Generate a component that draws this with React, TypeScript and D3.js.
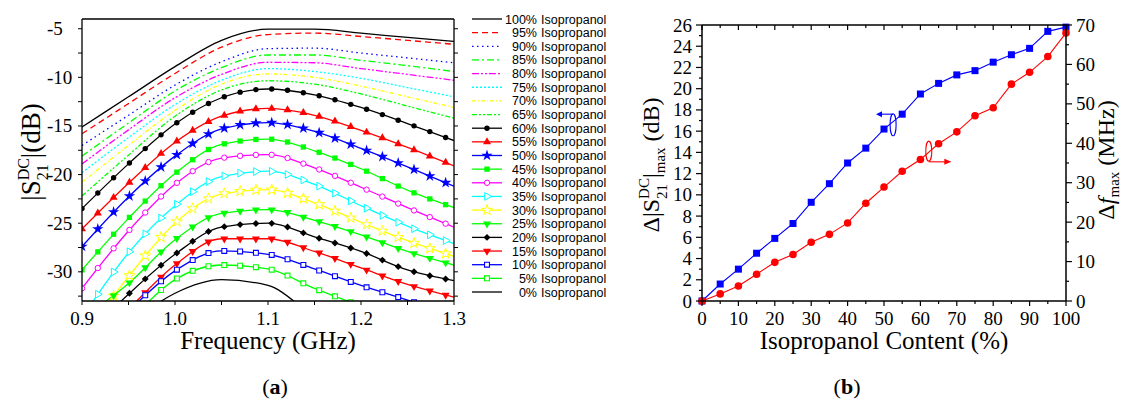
import React from "react";
import * as d3 from "d3";

// ---------- Panel (a) data ----------
const freqs = [0.9, 0.95, 1.0, 1.05, 1.1, 1.15, 1.2, 1.25, 1.3];
const s100 = [-15.1, -12.0, -8.9, -6.2, -5.05, -5.05, -5.45, -5.9, -6.3];
const s95 = [-15.8, -12.7, -9.6, -6.9, -5.6, -5.45, -5.8, -6.2, -6.6];
const s90 = [-17.0, -13.9, -10.8, -8.4, -7.05, -7.0, -7.5, -8.0, -8.5];
const s85 = [-18.1, -14.7, -11.4, -9.0, -7.7, -7.7, -8.25, -8.8, -9.4];
const s80 = [-18.9, -15.4, -12.1, -9.7, -8.45, -8.5, -9.1, -9.7, -10.3];
const s75 = [-19.8, -16.2, -12.8, -10.3, -9.1, -9.4, -10.1, -11.05, -12.0];
const s70 = [-20.8, -17.0, -13.4, -10.7, -9.65, -10.0, -10.9, -12.0, -13.1];
const s65 = [-22.2, -18.0, -14.0, -11.3, -10.35, -10.7, -11.7, -12.95, -14.2];
const s60 = [-23.5, -18.9, -14.8, -12.1, -11.2, -11.8, -13.1, -14.75, -16.5];
const s55 = [-25.6, -20.9, -16.7, -14.0, -13.2, -13.9, -15.45, -17.2, -19.1];
const s50 = [-27.4, -22.3, -18.1, -15.3, -14.65, -15.55, -17.3, -19.2, -21.2];
const s45 = [-29.8, -24.5, -19.9, -16.9, -16.35, -17.55, -19.4, -21.6, -23.4];
const s40 = [-31.7, -25.8, -21.0, -18.3, -17.95, -19.3, -21.3, -23.4, -25.4];
const s35 = [-34.7, -28.05, -23.2, -20.2, -19.65, -21.0, -23.2, -25.3, -27.1];
const s30 = [-37.0, -30.5, -25.0, -22.0, -21.55, -22.9, -24.9, -26.8, -28.4];
const s25 = [-34.8, -31.2, -26.7, -24.0, -23.6, -24.7, -26.2, -27.9, -29.3];
const s20 = [-37.0, -32.3, -28.2, -25.4, -25.0, -26.4, -27.9, -29.8, -30.9];
const s15 = [-38.0, -33.8, -29.3, -26.6, -26.6, -27.9, -29.6, -31.3, -32.6];
const s10 = [-38.5, -34.0, -29.9, -27.85, -28.2, -29.7, -31.4, -32.9, -34.5];
const s5 = [-39.0, -35.0, -30.8, -29.3, -29.7, -31.7, -33.5, -35.0, -36.5];
const s0 = [-40.0, -35.5, -32.2, -30.8, -31.4, -34.6, -37.0, -39.5, -42.0];

const xTicksA = [0.9, 1.0, 1.1, 1.2, 1.3];
const yTicksA = [-5, -10, -15, -20, -25, -30];

// ---------- Panel (b) data ----------
const content = [0, 5, 10, 15, 20, 25, 30, 35, 40, 45, 50, 55, 60, 65, 70, 75, 80, 85, 90, 95, 100];
const deltaS = [0, 1.6, 3.0, 4.5, 5.9, 7.3, 9.3, 11.05, 13.0, 14.4, 16.2, 17.6, 19.5, 20.5, 21.3, 21.7, 22.5, 23.2, 23.8, 25.4, 25.8];
const deltaF = [0, 1.8, 3.8, 6.8, 9.8, 11.8, 14.9, 16.9, 19.8, 24.8, 28.9, 32.9, 35.9, 39.9, 42.9, 47.0, 49.0, 55.0, 58.0, 62.0, 68.0];
const xTicksB = [0, 10, 20, 30, 40, 50, 60, 70, 80, 90, 100];
const yTicksBL = [0, 2, 4, 6, 8, 10, 12, 14, 16, 18, 20, 22, 24, 26];
const yTicksBR = [0, 10, 20, 30, 40, 50, 60, 70];

type Marker =
  | "circle" | "triUp" | "star" | "square" | "circleOpen" | "triRightOpen"
  | "starOpen" | "triDown" | "diamond" | "squareOpen";

interface SeriesDef {
  label: string;
  values: number[];
  color: string;
  dash?: string;
  marker?: Marker;
}

const GREEN = "#00ff00";
const SERIES: SeriesDef[] = [
  { label: "100%", values: s100, color: "#000000" },
  { label: "95%", values: s95, color: "#ff0000", dash: "6,4" },
  { label: "90%", values: s90, color: "#0000ff", dash: "1.5,3.5" },
  { label: "85%", values: s85, color: GREEN, dash: "7,3,2,3" },
  { label: "80%", values: s80, color: "#ff00ff", dash: "7,2,2,2,2,2" },
  { label: "75%", values: s75, color: "#00ffff", dash: "2,2" },
  { label: "70%", values: s70, color: "#ffff00", dash: "4,2,1,2" },
  { label: "65%", values: s65, color: GREEN, dash: "5,2,2,2,2,2" },
  { label: "60%", values: s60, color: "#000000", marker: "circle" },
  { label: "55%", values: s55, color: "#ff0000", marker: "triUp" },
  { label: "50%", values: s50, color: "#0000ff", marker: "star" },
  { label: "45%", values: s45, color: GREEN, marker: "square" },
  { label: "40%", values: s40, color: "#ff00ff", marker: "circleOpen" },
  { label: "35%", values: s35, color: "#00ffff", marker: "triRightOpen" },
  { label: "30%", values: s30, color: "#ffff00", marker: "starOpen" },
  { label: "25%", values: s25, color: GREEN, marker: "triDown" },
  { label: "20%", values: s20, color: "#000000", marker: "diamond" },
  { label: "15%", values: s15, color: "#ff0000", marker: "triDown" },
  { label: "10%", values: s10, color: "#0000ff", marker: "squareOpen" },
  { label: "5%", values: s5, color: GREEN, marker: "squareOpen" },
  { label: "0%", values: s0, color: "#000000" },
];

// Same monotone (Steffen) interpolation as d3.curveMonotoneX, used to place markers on the curve
function monotoneAt(xs: number[], ys: number[], x: number): number {
  const n = xs.length;
  const h: number[] = [];
  const s: number[] = [];
  for (let i = 0; i < n - 1; i++) {
    h[i] = xs[i + 1] - xs[i];
    s[i] = (ys[i + 1] - ys[i]) / h[i];
  }
  const t: number[] = new Array(n).fill(0);
  for (let i = 1; i < n - 1; i++) {
    const p = (s[i - 1] * h[i] + s[i] * h[i - 1]) / (h[i - 1] + h[i]);
    t[i] =
      (Math.sign(s[i - 1]) + Math.sign(s[i])) *
        Math.min(Math.abs(s[i - 1]), Math.abs(s[i]), 0.5 * Math.abs(p)) || 0;
  }
  t[0] = (3 * s[0] - t[1]) / 2;
  t[n - 1] = (3 * s[n - 2] - t[n - 2]) / 2;
  let i = 0;
  while (i < n - 2 && x > xs[i + 1]) i++;
  const u = (x - xs[i]) / h[i];
  const dx = h[i] / 3;
  const p0 = ys[i];
  const p1 = ys[i] + dx * t[i];
  const p2 = ys[i + 1] - dx * t[i + 1];
  const p3 = ys[i + 1];
  const v = 1 - u;
  return v * v * v * p0 + 3 * v * v * u * p1 + 3 * v * u * u * p2 + u * u * u * p3;
}

function MarkerShape({ type, x, y, color }: { type: Marker; x: number; y: number; color: string }) {
  const tr = (rot = 0) => `translate(${x},${y}) rotate(${rot})`;
  switch (type) {
    case "circle":
      return <circle cx={x} cy={y} r={2.7} fill={color} />;
    case "circleOpen":
      return <circle cx={x} cy={y} r={2.7} fill="#fff" stroke={color} strokeWidth={1} />;
    case "triUp":
      return <path d={d3.symbol().type(d3.symbolTriangle).size(28)()!} transform={tr()} fill={color} />;
    case "triDown":
      return <path d={d3.symbol().type(d3.symbolTriangle).size(28)()!} transform={tr(180)} fill={color} />;
    case "triRightOpen":
      return (
        <path d={d3.symbol().type(d3.symbolTriangle).size(26)()!} transform={tr(90)} fill="#fff" stroke={color} strokeWidth={1} />
      );
    case "star":
      return <path d={d3.symbol().type(d3.symbolStar).size(40)()!} transform={tr()} fill={color} />;
    case "starOpen":
      return <path d={d3.symbol().type(d3.symbolStar).size(36)()!} transform={tr()} fill="#fff" stroke={color} strokeWidth={1} />;
    case "square":
      return <path d={d3.symbol().type(d3.symbolSquare).size(28)()!} transform={tr()} fill={color} />;
    case "squareOpen":
      return <path d={d3.symbol().type(d3.symbolSquare).size(24)()!} transform={tr()} fill="#fff" stroke={color} strokeWidth={1.1} />;
    case "diamond":
      return <path d={d3.symbol().type(d3.symbolSquare).size(24)()!} transform={tr(45)} fill={color} />;
  }
  return null;
}

const SERIF = "'Times New Roman', 'Liberation Serif', Tinos, serif";
const SANS = "Arial, 'Liberation Sans', sans-serif";

export default function App() {
  // Panel (a)
  const xA = d3.scaleLinear().domain([0.9, 1.3]).range([82, 454]);
  const yA = d3.scaleLinear().domain([-33, -4]).range([301, 19]);
  const lineA = d3
    .line<number>()
    .x((_, i) => xA(freqs[i]))
    .y((d) => yA(d))
    .curve(d3.curveMonotoneX);
  const markerFreqs = d3.range(24).map((k) => 0.9 + 0.017 * k);
  const minorA = d3.range(-32.5, -4, 2.5);
  const minorXA = d3.range(0.9, 1.3001, 0.05);

  // Panel (b)
  const xB = d3.scaleLinear().domain([0, 100]).range([702, 1066]);
  const yBL = d3.scaleLinear().domain([0, 26]).range([301, 25]);
  const yBR = d3.scaleLinear().domain([0, 70]).range([301, 25]);
  const lineBL = d3
    .line<number>()
    .x((_, i) => xB(content[i]))
    .y((d) => yBL(d));
  const lineBR = d3
    .line<number>()
    .x((_, i) => xB(content[i]))
    .y((d) => yBR(d));

  const tickFont = 19;
  const legendX0 = 472;
  const legendX1 = 502;
  const legendY = (i: number) => 19 + i * 13.65;

  return (
    <svg
      width={1123}
      height={405}
      style={{ position: "absolute", left: 0, top: 0, display: "block", background: "#fff" }}
    >
      <rect x={0} y={0} width={1123} height={405} fill="#fff" />
      <defs>
        <clipPath id="clipA">
          <rect x={82} y={19} width={372} height={282} />
        </clipPath>
      </defs>

      {/* ===== Panel (a) ===== */}
      <g clipPath="url(#clipA)">
        {SERIES.map((s) => (
          <path
            key={s.label}
            d={lineA(s.values)!}
            fill="none"
            stroke={s.color}
            strokeWidth={1.3}
            strokeDasharray={s.dash}
          />
        ))}
        {SERIES.filter((s) => s.marker).map((s) =>
          markerFreqs.map((f, k) => {
            const v = monotoneAt(freqs, s.values, f);
            if (v < -33.5) return null;
            return <MarkerShape key={s.label + k} type={s.marker!} x={xA(f)} y={yA(v)} color={s.color} />;
          })
        )}
      </g>
      {/* frame */}
      <line x1={82} y1={19} x2={454} y2={19} stroke="#000" strokeWidth={1.3} />
      <line x1={82} y1={19} x2={82} y2={301} stroke="#000" strokeWidth={1.3} />
      <line x1={454} y1={19} x2={454} y2={301} stroke="#000" strokeWidth={1.3} />
      <line x1={82} y1={301} x2={454} y2={301} stroke="#000" strokeWidth={1.3} />
      {minorA.map((v) => (
        <g key={"ma" + v}>
          <line x1={82} x2={78} y1={yA(v)} y2={yA(v)} stroke="#000" strokeWidth={1} />
          <line x1={454} x2={458} y1={yA(v)} y2={yA(v)} stroke="#000" strokeWidth={1} />
        </g>
      ))}
      {minorXA.map((f) => (
        <line key={"mx" + f} x1={xA(f)} x2={xA(f)} y1={301} y2={305} stroke="#000" strokeWidth={1} />
      ))}
      {yTicksA.map((v) => (
        <text key={"yt" + v} x={47} y={yA(v) + 6.5} fontFamily={SERIF} fontSize={tickFont} fill="#000">
          {v}
        </text>
      ))}
      {xTicksA.map((f) => (
        <text key={"xt" + f} x={xA(f)} y={325} textAnchor="middle" fontFamily={SERIF} fontSize={tickFont}>
          {f.toFixed(1)}
        </text>
      ))}
      <text x={268} y={349} textAnchor="middle" fontFamily={SERIF} fontSize={25}>
        Frequency (GHz)
      </text>
      <text transform="translate(40,152) rotate(-90)" textAnchor="middle" fontFamily={SERIF} fontSize={27}>
        |S
        <tspan fontSize={16} dy={-11}>DC</tspan>
        <tspan fontSize={16} dx={-22.2} dy={19}>21</tspan>
        <tspan dx={6} dy={-8}>|(dB)</tspan>
      </text>
      <text x={275} y={394} textAnchor="middle" fontFamily={SERIF} fontSize={22}>
        (<tspan fontWeight="bold">a</tspan>)
      </text>

      {/* Legend */}
      {SERIES.map((s, i) => {
        const y = legendY(i);
        return (
          <g key={"lg" + s.label}>
            <line x1={legendX0} x2={legendX1} y1={y} y2={y} stroke={s.color} strokeWidth={1.3} strokeDasharray={s.dash} />
            {s.marker && <MarkerShape type={s.marker} x={(legendX0 + legendX1) / 2} y={y} color={s.color} />}
            <text x={537} y={y + 4.5} textAnchor="end" fontFamily={SANS} fontSize={12.5}>
              {s.label}
            </text>
            <text x={541} y={y + 4.5} fontFamily={SANS} fontSize={12.5}>
              Isopropanol
            </text>
          </g>
        );
      })}

      {/* ===== Panel (b) ===== */}
      <path d={lineBL(deltaS)!} fill="none" stroke="#0000ff" strokeWidth={1.1} />
      <path d={lineBR(deltaF)!} fill="none" stroke="#ff0000" strokeWidth={1.1} />
      {deltaS.map((v, i) => (
        <rect key={"bs" + i} x={xB(content[i]) - 3.5} y={yBL(v) - 3.5} width={7} height={7} fill="#0000ff" />
      ))}
      {deltaF.map((v, i) => (
        <circle key={"bf" + i} cx={xB(content[i])} cy={yBR(v)} r={3.8} fill="#ff0000" />
      ))}
      {/* frame */}
      <line x1={702} y1={25} x2={1066} y2={25} stroke="#000" strokeWidth={1.5} />
      <line x1={702} y1={301} x2={1066} y2={301} stroke="#000" strokeWidth={1.5} />
      <line x1={702} y1={25} x2={702} y2={301} stroke="#000" strokeWidth={1.5} />
      <line x1={1066} y1={25} x2={1066} y2={301} stroke="#000" strokeWidth={1.5} />
      {d3.range(0, 101, 5).map((c) => (
        <g key={"bx" + c}>
          <line x1={xB(c)} x2={xB(c)} y1={301} y2={c % 10 === 0 ? 306 : 304} stroke="#000" strokeWidth={1.2} />
          <line x1={xB(c)} x2={xB(c)} y1={25} y2={c % 10 === 0 ? 30 : 28} stroke="#000" strokeWidth={1.2} />
        </g>
      ))}
      {d3.range(0, 27, 1).map((v) => (
        <line key={"bl" + v} x1={702} x2={v % 2 === 0 ? 696 : 699} y1={yBL(v)} y2={yBL(v)} stroke="#000" strokeWidth={1.2} />
      ))}
      {d3.range(0, 71, 5).map((v) => (
        <line key={"br" + v} x1={1066} x2={v % 10 === 0 ? 1072 : 1069} y1={yBR(v)} y2={yBR(v)} stroke="#000" strokeWidth={1.2} />
      ))}
      {yTicksBL.map((v) => (
        <text key={"blt" + v} x={692} y={yBL(v) + 6.5} textAnchor="end" fontFamily={SERIF} fontSize={tickFont}>
          {v}
        </text>
      ))}
      {yTicksBR.map((v) => (
        <text key={"brt" + v} x={1076} y={yBR(v) + 6.5} fontFamily={SERIF} fontSize={tickFont}>
          {v}
        </text>
      ))}
      {xTicksB.map((c) => (
        <text key={"bxt" + c} x={xB(c)} y={325} textAnchor="middle" fontFamily={SERIF} fontSize={tickFont}>
          {c}
        </text>
      ))}
      <text x={884} y={349} textAnchor="middle" fontFamily={SERIF} fontSize={25}>
        Isopropanol Content (%)
      </text>
      <text transform="translate(659,165) rotate(-90)" textAnchor="middle" fontFamily={SERIF} fontSize={24}>
        Δ|S
        <tspan fontSize={15} dy={-10}>DC</tspan>
        <tspan fontSize={15} dx={-20.8} dy={18}>21</tspan>
        <tspan dx={5.8} dy={-8}>|</tspan>
        <tspan fontSize={15} dy={6}>max</tspan>
        <tspan dy={-6}> (dB)</tspan>
      </text>
      <text transform="translate(1114,160) rotate(-90)" textAnchor="middle" fontFamily={SERIF} fontSize={24}>
        Δ<tspan fontStyle="italic">f</tspan>
        <tspan fontSize={15} dy={5}>max</tspan>
        <tspan dy={-5}> (MHz)</tspan>
      </text>
      <text x={847} y={394} textAnchor="middle" fontFamily={SERIF} fontSize={22}>
        (<tspan fontWeight="bold">b</tspan>)
      </text>

      {/* annotation arrows */}
      <g stroke="#0000ff" strokeWidth={1.1} fill="none">
        <ellipse cx={xB(52.5)} cy={yBL(16.6)} rx={3} ry={11} />
        <line x1={xB(52.5)} x2={xB(48.5)} y1={yBL(17.6)} y2={yBL(17.6)} />
      </g>
      <path d={`M${xB(47.8)},${yBL(17.6)} l6,-3 l0,6 z`} fill="#0000ff" />
      <g stroke="#ff0000" strokeWidth={1.1} fill="none">
        <ellipse cx={xB(62.3)} cy={yBR(38)} rx={3} ry={10} />
        <line x1={xB(62.3)} x2={xB(67.6)} y1={yBR(35.3)} y2={yBR(35.3)} />
      </g>
      <path d={`M${xB(68.5)},${yBR(35.3)} l-7,-3 l0,6 z`} fill="#ff0000" />
    </svg>
  );
}
